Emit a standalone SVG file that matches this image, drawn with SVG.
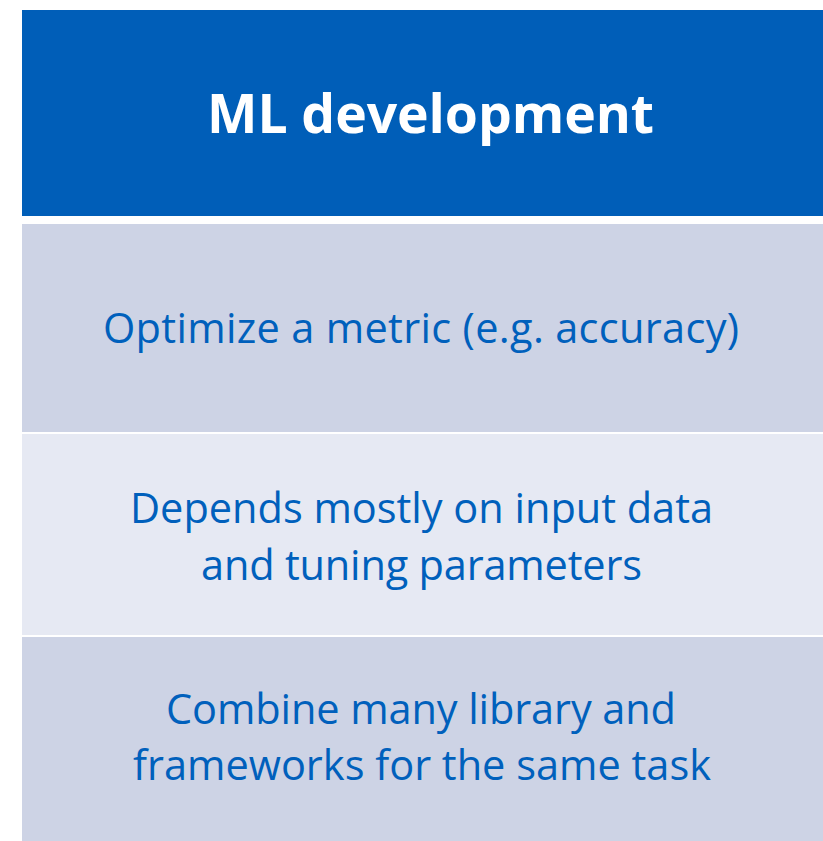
<svg xmlns="http://www.w3.org/2000/svg" width="823" height="841" viewBox="0 0 823 841">
<style>
.body { font-family: "Open Sans", "Noto Sans", "Liberation Sans", sans-serif; font-size: 41.5px; fill: #0060BC; text-anchor: middle; }
.head { font-family: "Open Sans", "Noto Sans", "Liberation Sans", sans-serif; font-size: 53.5px; font-weight: bold; fill: #FFFFFF; text-anchor: middle; }
</style>
<rect x="0" y="0" width="823" height="841" fill="#FFFFFF"/>
<g id="header">
<rect x="22" y="10" width="801" height="206" fill="#005EB8"/>
<text class="head" x="430.5" y="133" textLength="447" lengthAdjust="spacing">ML development</text>
</g>
<g id="row1">
<rect x="22" y="224" width="801" height="208" fill="#CDD3E5"/>
<text class="body" x="421" y="343" textLength="636" lengthAdjust="spacing">Optimize a metric (e.g. accuracy)</text>
</g>
<g id="row2">
<rect x="22" y="434" width="801" height="201" fill="#E6E9F3"/>
<text class="body" x="421.5" y="523" textLength="583" lengthAdjust="spacing">Depends mostly on input data</text>
<text class="body" x="421.5" y="580" textLength="441" lengthAdjust="spacing">and tuning parameters</text>
</g>
<g id="row3">
<rect x="22" y="637" width="801" height="204" fill="#CDD3E5"/>
<text class="body" x="421" y="724" textLength="510" lengthAdjust="spacing">Combine many library and</text>
<text class="body" x="422" y="780" textLength="578" lengthAdjust="spacing">frameworks for the same task</text>
</g>
<g id="connectors"></g>
</svg>
